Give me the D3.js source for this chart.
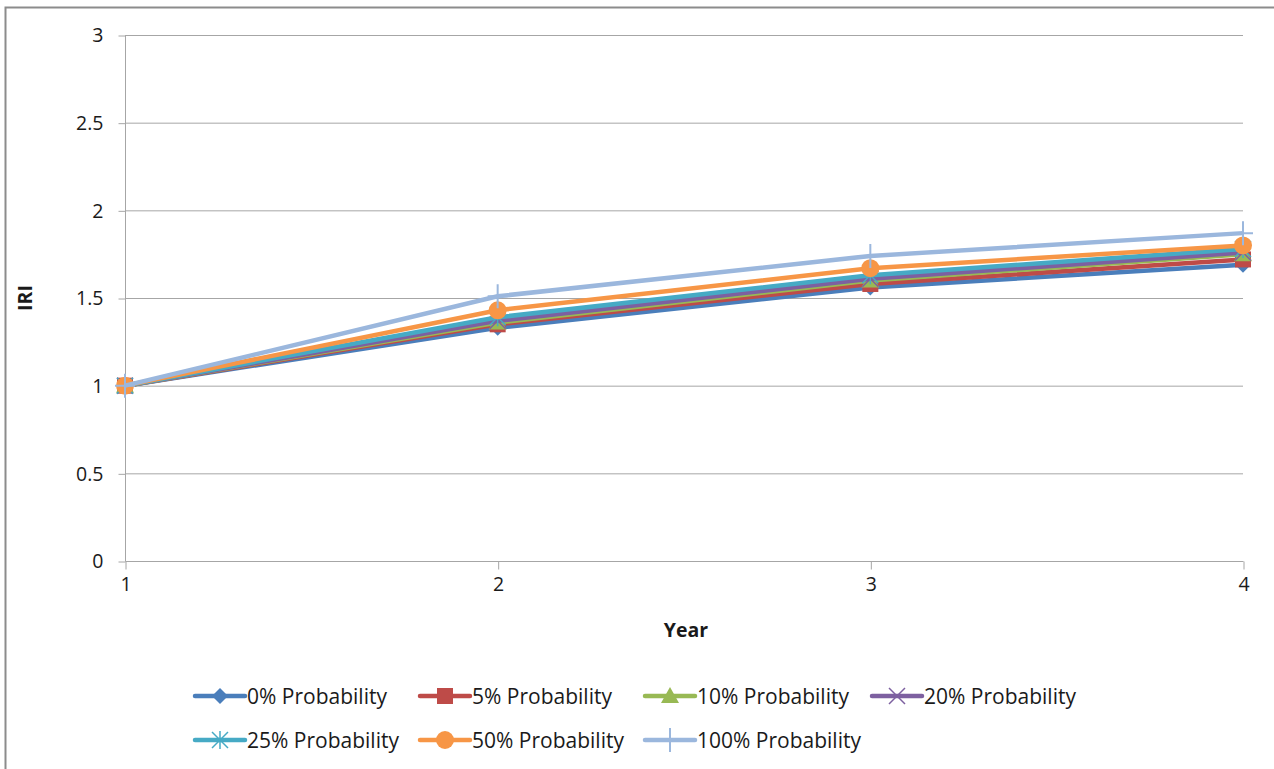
<!DOCTYPE html>
<html><head><meta charset="utf-8">
<script src="https://cdn.jsdelivr.net/npm/d3@7"></script>
<style>body{margin:0;background:#fff}svg{display:block}text{font-family:"Open Sans",Lato,sans-serif;fill:#1a1a1a}</style>
</head><body>
<svg id="c" width="1274" height="769"></svg>
<script>
const years = [1, 2, 3, 4];
const seriesNames = ["0% Probability","5% Probability","10% Probability","20% Probability","25% Probability","50% Probability","100% Probability"];
const s0 = [1, 1.33, 1.56, 1.69];
const s5 = [1, 1.35, 1.58, 1.72];
const s10 = [1, 1.36, 1.60, 1.75];
const s20 = [1, 1.37, 1.61, 1.76];
const s25 = [1, 1.39, 1.63, 1.78];
const s50 = [1, 1.43, 1.67, 1.80];
const s100 = [1, 1.51, 1.74, 1.87];
const yTicks = [0, 0.5, 1, 1.5, 2, 2.5, 3];
const colors = ["#4A7EBB","#BE4B48","#98B954","#7D60A0","#46AAC5","#F79646","#9BB7DD"];
const markers = ["diamond","square","triangle","x","star","circle","plus"];
const allSeries = [s0,s5,s10,s20,s25,s50,s100];

const svg = d3.select("#c");
svg.append("rect").attr("x",5.5).attr("y",7.5).attr("width",1300).attr("height",800)
  .attr("fill","#fff").attr("stroke","#8c8c8c").attr("stroke-width",2);

const x = d3.scaleLinear().domain([1,4]).range([125,1243]);
const y = d3.scaleLinear().domain([0,3]).range([561,35]);

// gridlines
svg.append("g").selectAll("line").data(yTicks.filter(d=>d>0)).join("line")
  .attr("x1",125).attr("x2",1243).attr("y1",d=>y(d)+0.5).attr("y2",d=>y(d)+0.5)
  .attr("stroke","#a6a6a6").attr("stroke-width",1);

// y axis
const yAxis = d3.axisLeft(y).tickValues(yTicks).tickSize(7).tickPadding(15).tickFormat(d=>String(d));
const gy = svg.append("g").attr("transform","translate(125.5,0.5)").call(yAxis);
gy.select(".domain").attr("stroke","#a6a6a6").attr("d","M0,"+(y(3))+"V"+y(0));
gy.selectAll(".tick line").attr("stroke","#a6a6a6");
gy.selectAll(".tick text").attr("font-size",19.5).attr("font-family","Open Sans").style("fill","#1a1a1a");

// x axis
const xAxis = d3.axisBottom(x).tickValues(years).tickSize(8).tickPadding(8).tickFormat(d=>String(d));
const gx = svg.append("g").attr("transform","translate(0.5,561.5)").call(xAxis);
gx.select(".domain").attr("stroke","#a6a6a6").attr("d","M"+x(1)+",0H"+x(4));
gx.selectAll(".tick line").attr("stroke","#a6a6a6");
gx.selectAll(".tick text").attr("font-size",19.5).attr("font-family","Open Sans").style("fill","#1a1a1a");

// titles
svg.append("text").attr("x",686).attr("y",637).attr("text-anchor","middle")
  .attr("font-size",19.5).attr("font-weight","bold").text("Year");
svg.append("text").attr("transform","translate(32,298) rotate(-90)").attr("text-anchor","middle")
  .attr("font-size",19.5).attr("font-weight","bold").text("IRI");

function marker(g, type, cx, cy, color, scale){
  scale = scale||1;
  const m = g.append("g").attr("transform",`translate(${cx},${cy}) scale(${scale})`);
  if(type==="diamond") m.append("path").attr("d","M0,-8L8,0L0,8L-8,0Z").attr("fill",color);
  else if(type==="square") m.append("rect").attr("x",-8).attr("y",-8).attr("width",16).attr("height",16).attr("fill",color);
  else if(type==="triangle") m.append("path").attr("d","M0,-9L9,7L-9,7Z").attr("fill",color);
  else if(type==="x") m.append("path").attr("d","M-8,-8L8,8M-8,8L8,-8").attr("stroke",color).attr("stroke-width",1.5).attr("fill","none");
  else if(type==="star") m.append("path").attr("d","M-8,-8L8,8M-8,8L8,-8M0,-9V9").attr("stroke",color).attr("stroke-width",1.5).attr("fill","none");
  else if(type==="circle") m.append("circle").attr("r",9).attr("fill",color);
  else if(type==="plus") m.append("path").attr("d","M-10,0H10M0,-12V12").attr("stroke",color).attr("stroke-width",2).attr("fill","none");
}

const line = d3.line().x((d,i)=>x(years[i])).y(d=>y(d));
allSeries.forEach((s,k)=>{
  const g = svg.append("g");
  g.append("path").datum(s).attr("d",line).attr("fill","none").attr("stroke",colors[k])
    .attr("stroke-width",4.5).attr("stroke-linejoin","round");
  s.forEach((v,i)=>marker(g, markers[k], x(years[i]), y(v), colors[k]));
});

// legend
const legCols = [195,420,645,872];
const legRows = [696,740];
seriesNames.forEach((n,k)=>{
  const col = k<4 ? k : k-4;
  const row = k<4 ? 0 : 1;
  const lx = legCols[col], ly = legRows[row];
  const g = svg.append("g");
  g.append("line").attr("x1",lx).attr("x2",lx+50).attr("y1",ly).attr("y2",ly)
    .attr("stroke",colors[k]).attr("stroke-width",4.5).attr("stroke-linecap","round");
  marker(g, markers[k], lx+25, ly, colors[k]);
  g.append("text").attr("x",lx+52).attr("y",ly+8).attr("font-size",21).text(n);
});
</script>
</body></html>
